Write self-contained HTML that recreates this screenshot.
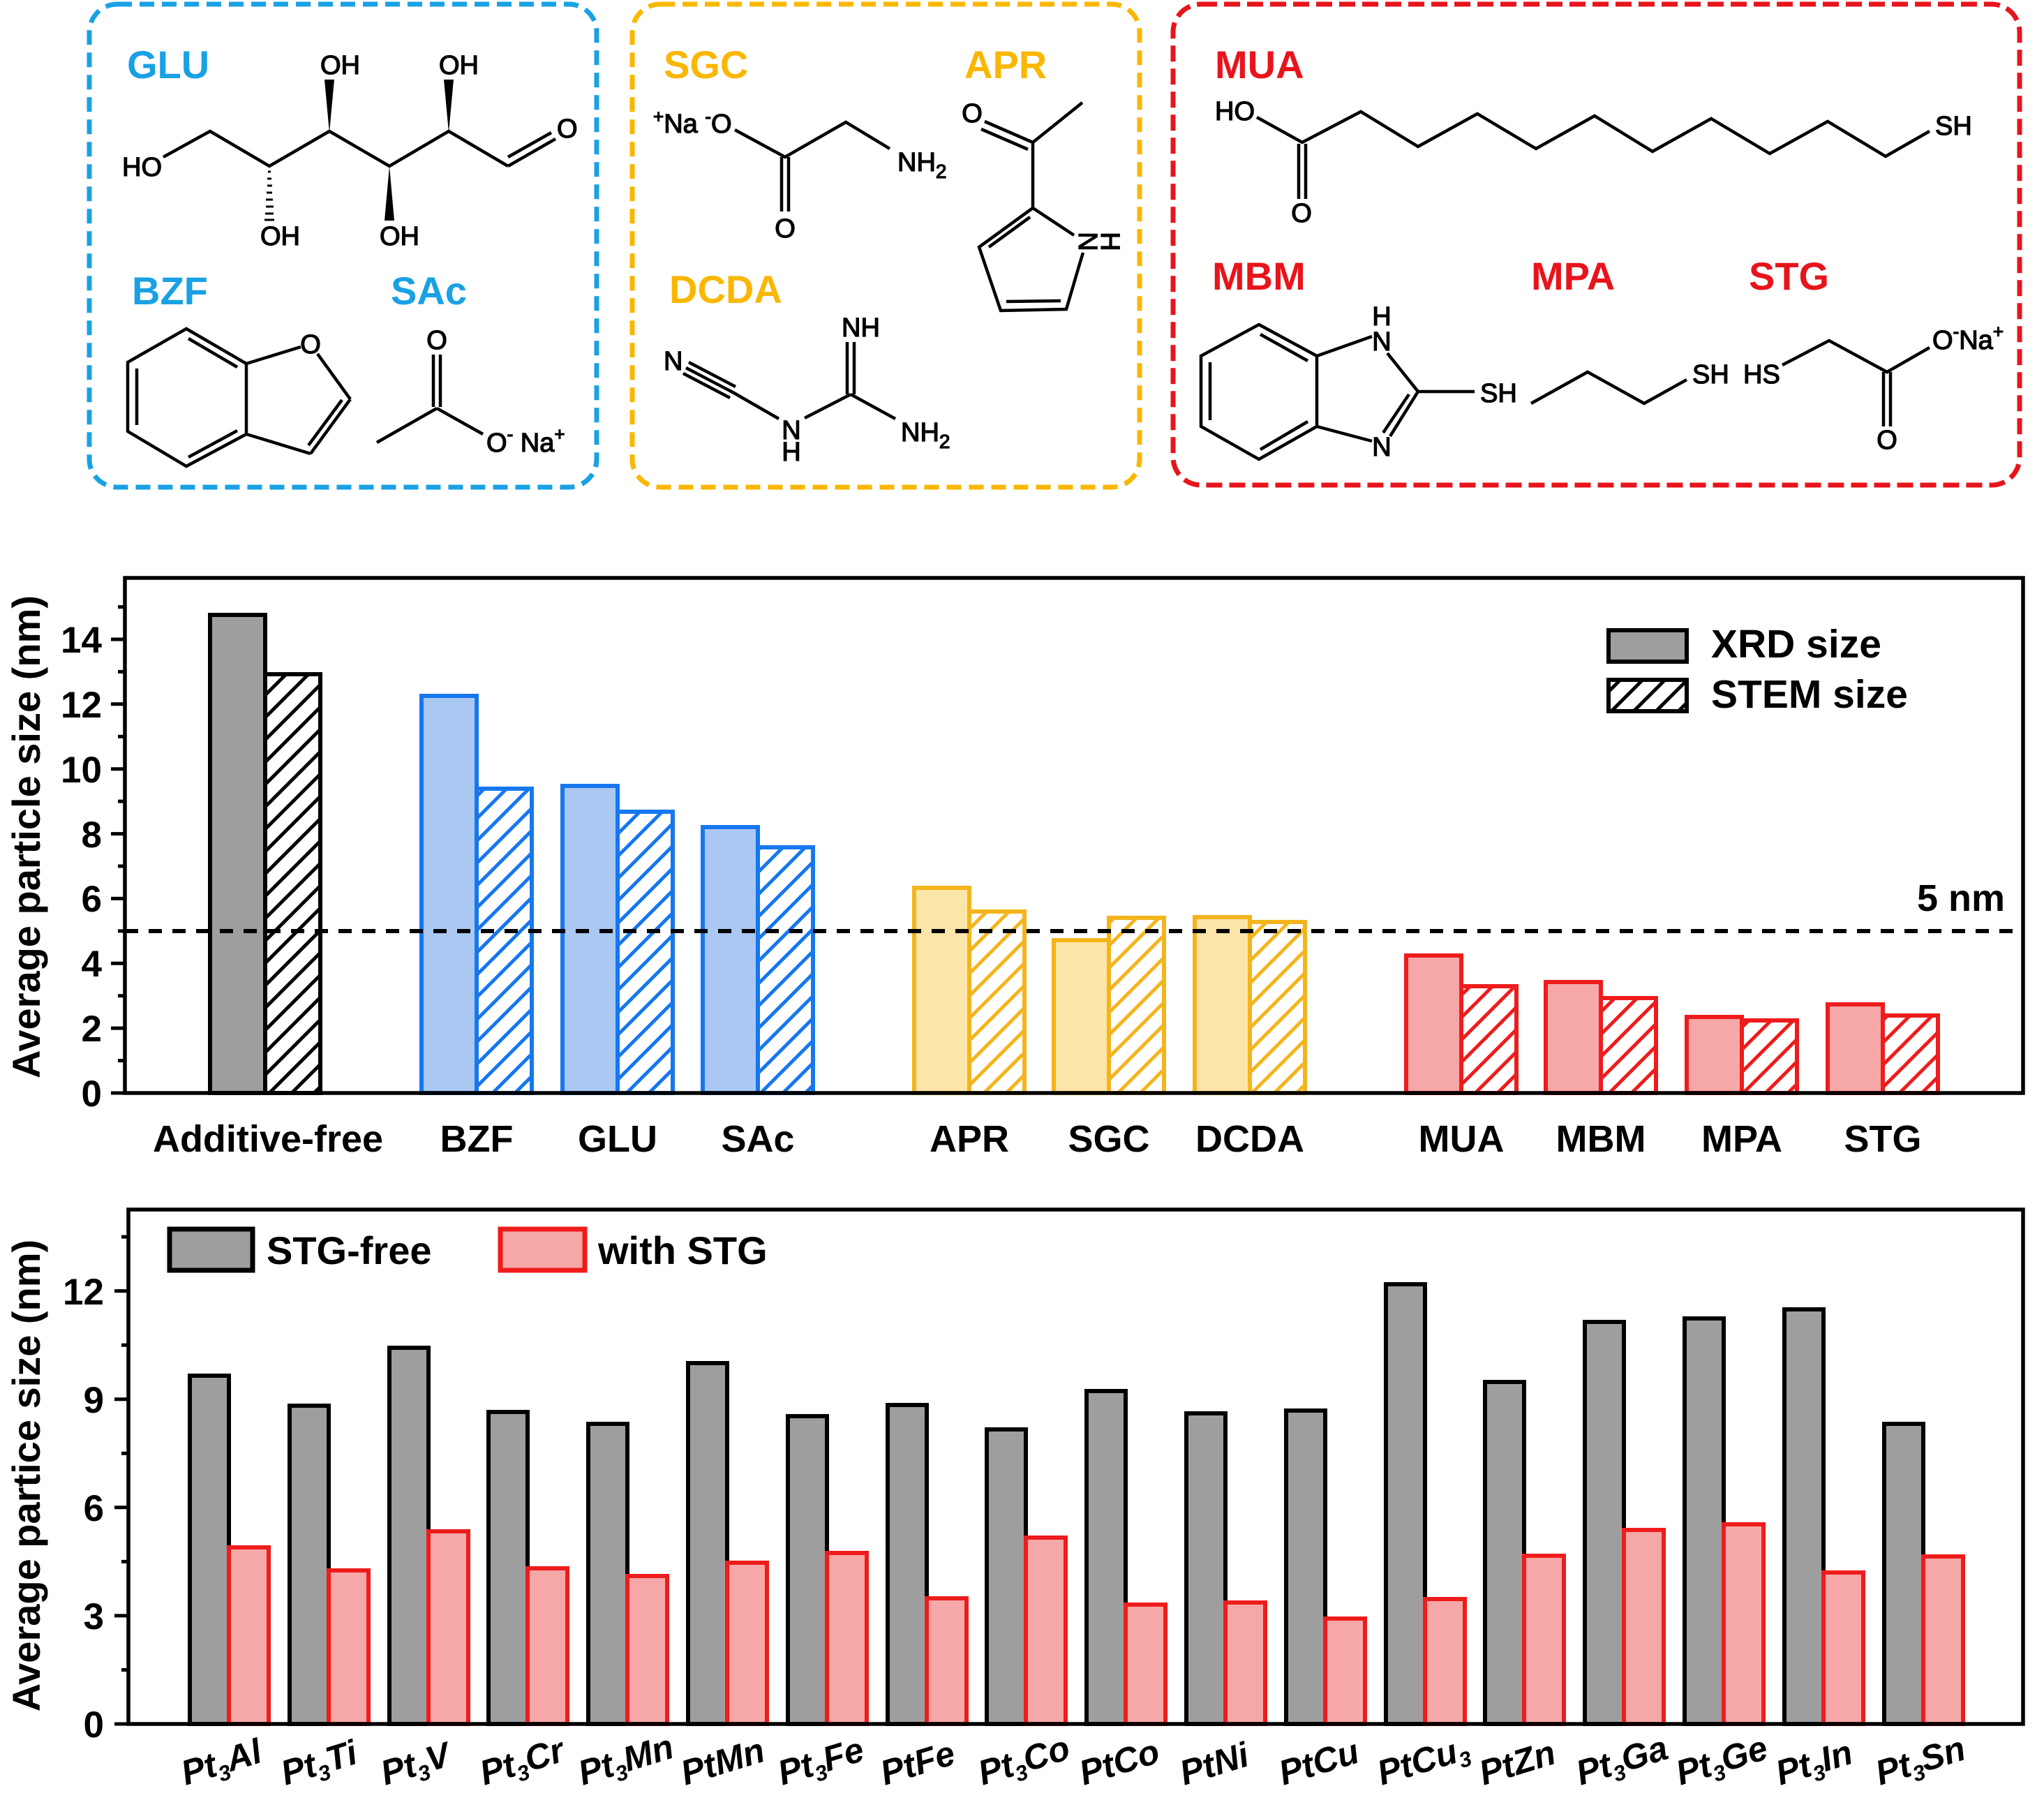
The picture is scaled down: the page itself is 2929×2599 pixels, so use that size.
<!DOCTYPE html>
<html>
<head>
<meta charset="utf-8">
<style>
html,body{margin:0;padding:0;background:#fff;}
svg{display:block;}
.lab{font-family:"Liberation Sans",Arial,sans-serif;font-weight:bold;}
.chem{font-family:"Liberation Sans",Arial,sans-serif;font-size:38px;fill:#000;stroke:#000;stroke-width:1.3px;}
.ax{font-family:"Liberation Sans",Arial,sans-serif;font-weight:bold;fill:#000;}
</style>
</head>
<body>
<svg width="2929" height="2599" viewBox="0 0 2929 2599" xmlns="http://www.w3.org/2000/svg">
<defs>
  <pattern id="hk" patternUnits="userSpaceOnUse" width="32" height="32">
    <path d="M-8,8 L8,-8 M0,32 L32,0 M24,40 L40,24" stroke="#000" stroke-width="5"/>
  </pattern>
  <pattern id="hb" patternUnits="userSpaceOnUse" width="32" height="32">
    <path d="M-8,8 L8,-8 M0,32 L32,0 M24,40 L40,24" stroke="#1677ee" stroke-width="5"/>
  </pattern>
  <pattern id="hy" patternUnits="userSpaceOnUse" width="32" height="32">
    <path d="M-8,8 L8,-8 M0,32 L32,0 M24,40 L40,24" stroke="#f4b41c" stroke-width="5"/>
  </pattern>
  <pattern id="hr" patternUnits="userSpaceOnUse" width="32" height="32">
    <path d="M-8,8 L8,-8 M0,32 L32,0 M24,40 L40,24" stroke="#ee1c1c" stroke-width="5"/>
  </pattern>
</defs>
<rect x="0" y="0" width="2929" height="2599" fill="#fff"/>

<!-- ================= TOP BOXES ================= -->
<rect x="128" y="6" width="727" height="692" rx="40" ry="40" fill="none" stroke="#19a1e4" stroke-width="7" stroke-dasharray="21 11"/>
<rect x="906" y="6" width="727" height="692" rx="40" ry="40" fill="none" stroke="#f9b700" stroke-width="7" stroke-dasharray="21 11"/>
<rect x="1681" y="6" width="1213" height="689" rx="40" ry="40" fill="none" stroke="#e8141c" stroke-width="7" stroke-dasharray="23 10"/>

<!-- Blue box labels -->
<text class="lab" x="182" y="112" font-size="56" fill="#19a1e4">GLU</text>
<text class="lab" x="189" y="436" font-size="56" fill="#19a1e4">BZF</text>
<text class="lab" x="560" y="436" font-size="56" fill="#19a1e4">SAc</text>

<g stroke="#000" stroke-width="4.5" fill="none" stroke-linejoin="miter">
  <!-- glucose chain -->
  <polyline points="234,225 301,188 386,238 472,188 558,238 643,188 728,238"/>
  <line x1="728" y1="238" x2="796" y2="199"/>
  <line x1="728" y1="225" x2="790" y2="190"/>
  <!-- benzofuran -->
  <polygon points="267,471 353,521 353,622 267,668 183,618 183,519"/>
  <line x1="196" y1="528" x2="196" y2="609"/>
  <line x1="270" y1="485" x2="340" y2="526"/>
  <line x1="340" y1="617" x2="270" y2="655"/>
  <line x1="353" y1="521" x2="431" y2="497"/>
  <line x1="455" y1="507" x2="502" y2="572"/>
  <line x1="502" y1="572" x2="445" y2="650"/>
  <line x1="490" y1="573" x2="442" y2="638"/>
  <line x1="445" y1="650" x2="353" y2="622"/>
  <!-- sodium acetate -->
  <line x1="540" y1="634" x2="626" y2="585"/>
  <line x1="621" y1="508" x2="621" y2="583"/>
  <line x1="631" y1="508" x2="631" y2="583"/>
  <line x1="626" y1="585" x2="692" y2="622"/>
</g>
<!-- wedges -->
<polygon points="472,190 465,114 479,114" fill="#000"/>
<polygon points="643,190 636,114 650,114" fill="#000"/>
<polygon points="558,238 551,316 565,316" fill="#000"/>
<g stroke="#000" stroke-width="3">
  <line x1="384" y1="246" x2="388" y2="246"/>
  <line x1="383" y1="256" x2="389" y2="256"/>
  <line x1="383" y1="266" x2="390" y2="266"/>
  <line x1="382" y1="276" x2="390" y2="276"/>
  <line x1="381" y1="286" x2="391" y2="286"/>
  <line x1="381" y1="296" x2="392" y2="296"/>
  <line x1="380" y1="306" x2="392" y2="306"/>
  <line x1="379" y1="315" x2="393" y2="315"/>
</g>
<text class="chem" x="175" y="252">HO</text>
<text class="chem" x="798" y="197">O</text>
<text class="chem" x="459" y="106">OH</text>
<text class="chem" x="629" y="106">OH</text>
<text class="chem" x="373" y="351">OH</text>
<text class="chem" x="544" y="351">OH</text>
<text class="chem" x="445" y="506" text-anchor="middle">O</text>
<text class="chem" x="626" y="500" text-anchor="middle">O</text>
<text class="chem" x="697" y="647">O<tspan font-size="26" dy="-16">-</tspan><tspan dy="16"> Na</tspan><tspan font-size="26" dy="-16">+</tspan></text>

<!-- Yellow box -->
<text class="lab" x="951" y="112" font-size="56" fill="#f9b700">SGC</text>
<text class="lab" x="1382" y="112" font-size="56" fill="#f9b700">APR</text>
<text class="lab" x="959" y="434" font-size="56" fill="#f9b700">DCDA</text>

<g stroke="#000" stroke-width="4.5" fill="none">
  <!-- SGC -->
  <polyline points="1053,186 1125,225 1212,175 1275,213"/>
  <line x1="1120" y1="225" x2="1120" y2="303"/>
  <line x1="1130" y1="225" x2="1130" y2="303"/>
  <!-- APR -->
  <line x1="1411" y1="174" x2="1480" y2="204"/>
  <line x1="1406" y1="185" x2="1473" y2="214"/>
  <line x1="1480" y1="204" x2="1551" y2="147"/>
  <line x1="1480" y1="204" x2="1480" y2="298"/>
  <line x1="1480" y1="298" x2="1539" y2="337"/>
  <polyline points="1480,298 1403,354 1434,445 1528,443 1548,375"/>
  <line x1="1548" y1="375" x2="1552" y2="362"/>
  <line x1="1476" y1="311" x2="1417" y2="354"/>
  <line x1="1442" y1="432" x2="1520" y2="431"/>
  <!-- DCDA -->
  <line x1="987" y1="519" x2="1054" y2="554"/>
  <line x1="983" y1="527" x2="1050" y2="562"/>
  <line x1="979" y1="535" x2="1046" y2="570"/>
  <line x1="1050" y1="562" x2="1116" y2="600"/>
  <line x1="1153" y1="599" x2="1219" y2="565"/>
  <line x1="1214" y1="565" x2="1214" y2="490"/>
  <line x1="1224" y1="565" x2="1224" y2="490"/>
  <line x1="1219" y1="565" x2="1283" y2="600"/>
</g>
<text class="chem" x="936" y="190"><tspan font-size="26" dy="-14">+</tspan><tspan dy="14">Na </tspan><tspan font-size="26" dy="-14">-</tspan><tspan dy="14">O</tspan></text>
<text class="chem" x="1286" y="245">NH<tspan font-size="28" dy="10">2</tspan></text>
<text class="chem" x="1125" y="340" text-anchor="middle">O</text>
<text class="chem" x="1393" y="175" text-anchor="middle">O</text>
<text class="chem" x="1558" y="346" text-anchor="middle" dominant-baseline="central" transform="rotate(90 1558 346)">N</text>
<text class="chem" x="1590" y="346" text-anchor="middle" dominant-baseline="central" transform="rotate(90 1590 346)">H</text>
<text class="chem" x="951" y="530">N</text>
<text class="chem" x="1134" y="629" text-anchor="middle">N</text>
<text class="chem" x="1134" y="660" text-anchor="middle">H</text>
<text class="chem" x="1206" y="482">NH</text>
<text class="chem" x="1291" y="632">NH<tspan font-size="28" dy="10">2</tspan></text>

<!-- Red box -->
<text class="lab" x="1741" y="112" font-size="56" fill="#e8141c">MUA</text>
<text class="lab" x="1737" y="415" font-size="56" fill="#e8141c">MBM</text>
<text class="lab" x="2194" y="415" font-size="56" fill="#e8141c">MPA</text>
<text class="lab" x="2506" y="415" font-size="56" fill="#e8141c">STG</text>

<g stroke="#000" stroke-width="4.5" fill="none">
  <!-- MUA -->
  <polyline points="1801,168 1866,204 1950,160 2032,210 2117,163 2201,213 2285,166 2368,217 2452,170 2536,220 2619,174 2702,224 2765,188"/>
  <line x1="1861" y1="206" x2="1861" y2="285"/>
  <line x1="1871" y1="206" x2="1871" y2="285"/>
  <!-- MBM -->
  <polygon points="1804,465 1887,510 1887,611 1804,658 1721,611 1721,510"/>
  <line x1="1734" y1="519" x2="1734" y2="602"/>
  <line x1="1806" y1="479" x2="1874" y2="517"/>
  <line x1="1874" y1="604" x2="1806" y2="644"/>
  <line x1="1887" y1="510" x2="1966" y2="482"/>
  <line x1="1988" y1="506" x2="2032" y2="561"/>
  <line x1="2032" y1="561" x2="1992" y2="625"/>
  <line x1="2019" y1="565" x2="1982" y2="620"/>
  <line x1="1966" y1="632" x2="1887" y2="611"/>
  <line x1="2032" y1="561" x2="2113" y2="561"/>
  <!-- MPA -->
  <polyline points="2194,578 2275,533 2356,578 2417,544"/>
  <!-- STG -->
  <polyline points="2554,523 2621,488 2704,533 2765,498"/>
  <line x1="2699" y1="533" x2="2699" y2="611"/>
  <line x1="2709" y1="533" x2="2709" y2="611"/>
</g>
<text class="chem" x="1741" y="172">HO</text>
<text class="chem" x="2773" y="193">SH</text>
<text class="chem" x="1865" y="318" text-anchor="middle">O</text>
<text class="chem" x="1980" y="466" text-anchor="middle">H</text>
<text class="chem" x="1980" y="502" text-anchor="middle">N</text>
<text class="chem" x="1980" y="653" text-anchor="middle">N</text>
<text class="chem" x="2121" y="576">SH</text>
<text class="chem" x="2425" y="549">SH</text>
<text class="chem" x="2498" y="549">HS</text>
<text class="chem" x="2769" y="500">O<tspan font-size="26" dy="-16">-</tspan><tspan dy="16">Na</tspan><tspan font-size="26" dy="-16">+</tspan></text>
<text class="chem" x="2704" y="643" text-anchor="middle">O</text>

<!-- ================= MIDDLE CHART ================= -->
<g stroke-width="6">
  <rect x="301" y="881" width="79" height="685" fill="#9e9e9e" stroke="#000"/>
  <rect x="380" y="966" width="79" height="600" fill="url(#hk)" stroke="#000"/>

  <rect x="604" y="997" width="79" height="569" fill="#aac8f2" stroke="#1677ee"/>
  <rect x="683" y="1130" width="79" height="436" fill="url(#hb)" stroke="#1677ee"/>
  <rect x="806" y="1126" width="79" height="440" fill="#aac8f2" stroke="#1677ee"/>
  <rect x="885" y="1163" width="79" height="403" fill="url(#hb)" stroke="#1677ee"/>
  <rect x="1007" y="1185" width="79" height="381" fill="#aac8f2" stroke="#1677ee"/>
  <rect x="1086" y="1214" width="79" height="352" fill="url(#hb)" stroke="#1677ee"/>

  <rect x="1310" y="1272" width="79" height="294" fill="#fce5a8" stroke="#f4b41c"/>
  <rect x="1389" y="1306" width="79" height="260" fill="url(#hy)" stroke="#f4b41c"/>
  <rect x="1510" y="1347" width="79" height="219" fill="#fce5a8" stroke="#f4b41c"/>
  <rect x="1589" y="1315" width="79" height="251" fill="url(#hy)" stroke="#f4b41c"/>
  <rect x="1712" y="1314" width="79" height="252" fill="#fce5a8" stroke="#f4b41c"/>
  <rect x="1791" y="1321" width="79" height="245" fill="url(#hy)" stroke="#f4b41c"/>

  <rect x="2015" y="1369" width="79" height="197" fill="#f6a8a8" stroke="#ee1c1c"/>
  <rect x="2094" y="1413" width="79" height="153" fill="url(#hr)" stroke="#ee1c1c"/>
  <rect x="2215" y="1407" width="79" height="159" fill="#f6a8a8" stroke="#ee1c1c"/>
  <rect x="2294" y="1430" width="79" height="136" fill="url(#hr)" stroke="#ee1c1c"/>
  <rect x="2417" y="1457" width="79" height="109" fill="#f6a8a8" stroke="#ee1c1c"/>
  <rect x="2496" y="1462" width="79" height="104" fill="url(#hr)" stroke="#ee1c1c"/>
  <rect x="2619" y="1439" width="79" height="127" fill="#f6a8a8" stroke="#ee1c1c"/>
  <rect x="2698" y="1455" width="79" height="111" fill="url(#hr)" stroke="#ee1c1c"/>
</g>
<line x1="179" y1="1334" x2="2899" y2="1334" stroke="#000" stroke-width="6" stroke-dasharray="19 15"/>
<text class="ax" x="2747" y="1305" font-size="54">5 nm</text>
<rect x="179" y="828" width="2720" height="738" fill="none" stroke="#000" stroke-width="5.5"/>
<g stroke="#000" stroke-width="5">
  <line x1="159" y1="1566" x2="179" y2="1566"/>
  <line x1="169" y1="1519.6" x2="179" y2="1519.6"/>
  <line x1="159" y1="1473.1" x2="179" y2="1473.1"/>
  <line x1="169" y1="1426.7" x2="179" y2="1426.7"/>
  <line x1="159" y1="1380.3" x2="179" y2="1380.3"/>
  <line x1="169" y1="1333.9" x2="179" y2="1333.9"/>
  <line x1="159" y1="1287.4" x2="179" y2="1287.4"/>
  <line x1="169" y1="1241" x2="179" y2="1241"/>
  <line x1="159" y1="1194.6" x2="179" y2="1194.6"/>
  <line x1="169" y1="1148.1" x2="179" y2="1148.1"/>
  <line x1="159" y1="1101.7" x2="179" y2="1101.7"/>
  <line x1="169" y1="1055.3" x2="179" y2="1055.3"/>
  <line x1="159" y1="1008.8" x2="179" y2="1008.8"/>
  <line x1="169" y1="962.4" x2="179" y2="962.4"/>
  <line x1="159" y1="916" x2="179" y2="916"/>
  <line x1="169" y1="869.6" x2="179" y2="869.6"/>
</g>
<g class="ax" font-size="53" text-anchor="end">
  <text x="146" y="1585">0</text>
  <text x="146" y="1492">2</text>
  <text x="146" y="1399">4</text>
  <text x="146" y="1306">6</text>
  <text x="146" y="1214">8</text>
  <text x="146" y="1121">10</text>
  <text x="146" y="1028">12</text>
  <text x="146" y="935">14</text>
</g>
<text class="ax" font-size="56" text-anchor="middle" x="57" y="1199" transform="rotate(-90 57 1199)">Average particle size (nm)</text>
<g class="ax" font-size="54" text-anchor="middle">
  <text x="384" y="1650">Additive-free</text>
  <text x="683" y="1650">BZF</text>
  <text x="885" y="1650">GLU</text>
  <text x="1086" y="1650">SAc</text>
  <text x="1389" y="1650">APR</text>
  <text x="1589" y="1650">SGC</text>
  <text x="1791" y="1650">DCDA</text>
  <text x="2094" y="1650">MUA</text>
  <text x="2294" y="1650">MBM</text>
  <text x="2496" y="1650">MPA</text>
  <text x="2698" y="1650">STG</text>
</g>
<rect x="2305" y="903" width="112" height="45" fill="#9e9e9e" stroke="#000" stroke-width="6"/>
<rect x="2305" y="974" width="112" height="45" fill="url(#hk)" stroke="#000" stroke-width="6"/>
<text class="ax" x="2452" y="942" font-size="57">XRD size</text>
<text class="ax" x="2452" y="1014" font-size="57">STEM size</text>

<!-- ================= BOTTOM CHART ================= -->
<g stroke-width="6">
  <rect x="272" y="1971" width="56" height="499" fill="#9e9e9e" stroke="#000"/>
  <rect x="415" y="2014" width="56" height="456" fill="#9e9e9e" stroke="#000"/>
  <rect x="558" y="1931" width="56" height="539" fill="#9e9e9e" stroke="#000"/>
  <rect x="700" y="2023" width="56" height="447" fill="#9e9e9e" stroke="#000"/>
  <rect x="843" y="2040" width="56" height="430" fill="#9e9e9e" stroke="#000"/>
  <rect x="986" y="1953" width="56" height="517" fill="#9e9e9e" stroke="#000"/>
  <rect x="1129" y="2029" width="56" height="441" fill="#9e9e9e" stroke="#000"/>
  <rect x="1272" y="2013" width="56" height="457" fill="#9e9e9e" stroke="#000"/>
  <rect x="1414" y="2048" width="56" height="422" fill="#9e9e9e" stroke="#000"/>
  <rect x="1557" y="1993" width="56" height="477" fill="#9e9e9e" stroke="#000"/>
  <rect x="1700" y="2025" width="56" height="445" fill="#9e9e9e" stroke="#000"/>
  <rect x="1843" y="2021" width="56" height="449" fill="#9e9e9e" stroke="#000"/>
  <rect x="1986" y="1840" width="56" height="630" fill="#9e9e9e" stroke="#000"/>
  <rect x="2128" y="1980" width="56" height="490" fill="#9e9e9e" stroke="#000"/>
  <rect x="2271" y="1894" width="56" height="576" fill="#9e9e9e" stroke="#000"/>
  <rect x="2414" y="1889" width="56" height="581" fill="#9e9e9e" stroke="#000"/>
  <rect x="2557" y="1876" width="56" height="594" fill="#9e9e9e" stroke="#000"/>
  <rect x="2700" y="2040" width="56" height="430" fill="#9e9e9e" stroke="#000"/>

  <rect x="328" y="2217" width="57" height="253" fill="#f6a8a8" stroke="#ee1c1c"/>
  <rect x="471" y="2250" width="57" height="220" fill="#f6a8a8" stroke="#ee1c1c"/>
  <rect x="614" y="2194" width="57" height="276" fill="#f6a8a8" stroke="#ee1c1c"/>
  <rect x="756" y="2247" width="57" height="223" fill="#f6a8a8" stroke="#ee1c1c"/>
  <rect x="899" y="2258" width="57" height="212" fill="#f6a8a8" stroke="#ee1c1c"/>
  <rect x="1042" y="2239" width="57" height="231" fill="#f6a8a8" stroke="#ee1c1c"/>
  <rect x="1185" y="2225" width="57" height="245" fill="#f6a8a8" stroke="#ee1c1c"/>
  <rect x="1328" y="2290" width="57" height="180" fill="#f6a8a8" stroke="#ee1c1c"/>
  <rect x="1470" y="2203" width="57" height="267" fill="#f6a8a8" stroke="#ee1c1c"/>
  <rect x="1613" y="2299" width="57" height="171" fill="#f6a8a8" stroke="#ee1c1c"/>
  <rect x="1756" y="2296" width="57" height="174" fill="#f6a8a8" stroke="#ee1c1c"/>
  <rect x="1899" y="2319" width="57" height="151" fill="#f6a8a8" stroke="#ee1c1c"/>
  <rect x="2042" y="2291" width="57" height="179" fill="#f6a8a8" stroke="#ee1c1c"/>
  <rect x="2184" y="2229" width="57" height="241" fill="#f6a8a8" stroke="#ee1c1c"/>
  <rect x="2327" y="2192" width="57" height="278" fill="#f6a8a8" stroke="#ee1c1c"/>
  <rect x="2470" y="2184" width="57" height="286" fill="#f6a8a8" stroke="#ee1c1c"/>
  <rect x="2613" y="2253" width="57" height="217" fill="#f6a8a8" stroke="#ee1c1c"/>
  <rect x="2756" y="2230" width="57" height="240" fill="#f6a8a8" stroke="#ee1c1c"/>
</g>
<rect x="184" y="1733" width="2715" height="737" fill="none" stroke="#000" stroke-width="5.5"/>
<g stroke="#000" stroke-width="5">
  <line x1="164" y1="2470" x2="184" y2="2470"/>
  <line x1="174" y1="2392.5" x2="184" y2="2392.5"/>
  <line x1="164" y1="2314.9" x2="184" y2="2314.9"/>
  <line x1="174" y1="2237.4" x2="184" y2="2237.4"/>
  <line x1="164" y1="2159.8" x2="184" y2="2159.8"/>
  <line x1="174" y1="2082.3" x2="184" y2="2082.3"/>
  <line x1="164" y1="2004.7" x2="184" y2="2004.7"/>
  <line x1="174" y1="1927.2" x2="184" y2="1927.2"/>
  <line x1="164" y1="1849.6" x2="184" y2="1849.6"/>
  <line x1="174" y1="1772.1" x2="184" y2="1772.1"/>
</g>
<g class="ax" font-size="53" text-anchor="end">
  <text x="149" y="2489">0</text>
  <text x="149" y="2334">3</text>
  <text x="149" y="2179">6</text>
  <text x="149" y="2024">9</text>
  <text x="149" y="1869">12</text>
</g>
<text class="ax" font-size="56" text-anchor="middle" x="57" y="2114" transform="rotate(-90 57 2114)">Average partice size (nm)</text>
<rect x="243" y="1761" width="119" height="59" fill="#9e9e9e" stroke="#000" stroke-width="7"/>
<text class="ax" x="382" y="1811" font-size="56">STG-free</text>
<rect x="717" y="1761" width="121" height="59" fill="#f6a8a8" stroke="#ee1c1c" stroke-width="7"/>
<text class="ax" x="857" y="1811" font-size="56">with STG</text>
<g class="ax" font-size="50" font-style="italic">
  <text x="266" y="2558" transform="rotate(-17 266 2558)">Pt<tspan font-size="31" dy="10">3</tspan><tspan dy="-10">Al</tspan></text>
  <text x="409" y="2558" transform="rotate(-17 409 2558)">Pt<tspan font-size="31" dy="10">3</tspan><tspan dy="-10">Ti</tspan></text>
  <text x="552" y="2558" transform="rotate(-17 552 2558)">Pt<tspan font-size="31" dy="10">3</tspan><tspan dy="-10">V</tspan></text>
  <text x="694" y="2558" transform="rotate(-17 694 2558)">Pt<tspan font-size="31" dy="10">3</tspan><tspan dy="-10">Cr</tspan></text>
  <text x="835" y="2558" transform="rotate(-17 835 2558)">Pt<tspan font-size="31" dy="10">3</tspan><tspan dy="-10">Mn</tspan></text>
  <text x="982" y="2558" transform="rotate(-17 982 2558)">PtMn</text>
  <text x="1121" y="2558" transform="rotate(-17 1121 2558)">Pt<tspan font-size="31" dy="10">3</tspan><tspan dy="-10">Fe</tspan></text>
  <text x="1268" y="2558" transform="rotate(-17 1268 2558)">PtFe</text>
  <text x="1408" y="2558" transform="rotate(-17 1408 2558)">Pt<tspan font-size="31" dy="10">3</tspan><tspan dy="-10">Co</tspan></text>
  <text x="1553" y="2558" transform="rotate(-17 1553 2558)">PtCo</text>
  <text x="1697" y="2558" transform="rotate(-17 1697 2558)">PtNi</text>
  <text x="1839" y="2558" transform="rotate(-17 1839 2558)">PtCu</text>
  <text x="1980" y="2558" transform="rotate(-17 1980 2558)">PtCu<tspan font-size="31" dy="10">3</tspan></text>
  <text x="2126" y="2558" transform="rotate(-17 2126 2558)">PtZn</text>
  <text x="2265" y="2558" transform="rotate(-17 2265 2558)">Pt<tspan font-size="31" dy="10">3</tspan><tspan dy="-10">Ga</tspan></text>
  <text x="2408" y="2558" transform="rotate(-17 2408 2558)">Pt<tspan font-size="31" dy="10">3</tspan><tspan dy="-10">Ge</tspan></text>
  <text x="2551" y="2558" transform="rotate(-17 2551 2558)">Pt<tspan font-size="31" dy="10">3</tspan><tspan dy="-10">In</tspan></text>
  <text x="2694" y="2558" transform="rotate(-17 2694 2558)">Pt<tspan font-size="31" dy="10">3</tspan><tspan dy="-10">Sn</tspan></text>
</g>
</svg>
</body>
</html>
